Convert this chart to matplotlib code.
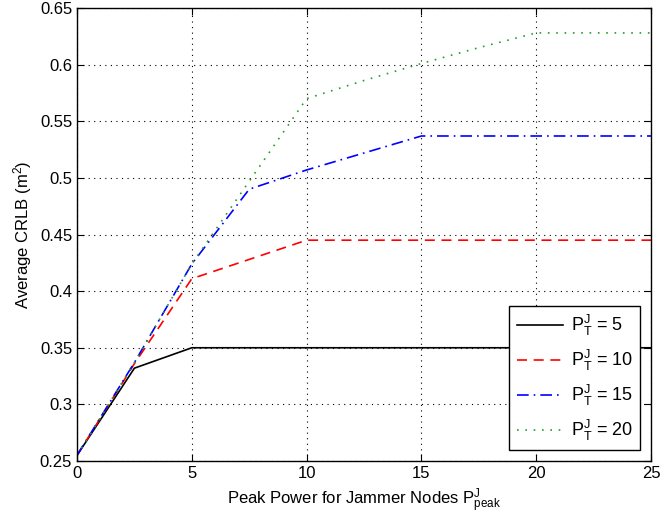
import matplotlib
matplotlib.use("Agg")
import matplotlib.pyplot as plt
from matplotlib.ticker import FuncFormatter

plt.rcParams['font.family'] = ['Liberation Sans', 'DejaVu Sans']
plt.rcParams['mathtext.default'] = 'regular'

# peak jammer power
x = [0, 2.5, 5, 7.5, 10, 12.5, 15, 17.5, 20, 22.5, 25]

crlb_p5 = [0.255, 0.332, 0.350, 0.350, 0.350, 0.350, 0.350, 0.350, 0.350, 0.350, 0.350]
crlb_p10 = [0.255, 0.336, 0.411, 0.428, 0.445, 0.445, 0.445, 0.445, 0.445, 0.445, 0.445]
crlb_p15 = [0.255, 0.337, 0.424, 0.490, 0.507, 0.522, 0.537, 0.537, 0.537, 0.537, 0.537]
crlb_p20 = [0.255, 0.337, 0.424, 0.497, 0.570, 0.586, 0.601, 0.615, 0.628, 0.628, 0.628]

labels = ["$P^J_T$ = 5", "$P^J_T$ = 10", "$P^J_T$ = 15", "$P^J_T$ = 20"]

fig = plt.figure(figsize=(6.6, 5.24), dpi=100)
ax = fig.add_axes([0.1167, 0.1202, 0.8697, 0.8645])

ax.plot(x, crlb_p5, "-", color="black", lw=1.2, label=labels[0])
ax.plot(x, crlb_p10, "--", color="red", lw=1.2, dashes=(6, 4), label=labels[1])
ax.plot(x, crlb_p15, "-.", color="blue", lw=1.2, dashes=(7, 3, 1, 3), label=labels[2])
ax.plot(x, crlb_p20, ":", color="#2a9a2a", lw=1.2, dashes=(1, 4), label=labels[3])

ax.set_xlim(0, 25)
ax.set_ylim(0.25, 0.65)
ax.set_xticks([0, 5, 10, 15, 20, 25])
ax.set_yticks([0.25, 0.3, 0.35, 0.4, 0.45, 0.5, 0.55, 0.6, 0.65])
ax.yaxis.set_major_formatter(FuncFormatter(lambda v, p: "%g" % round(v, 2)))

ax.grid(True, color="black", linestyle=(0, (1, 4)), lw=0.8)
ax.tick_params(direction="in", top=True, right=True, labelsize=12, length=5)
for s in ax.spines.values():
    s.set_linewidth(1.0)

ax.set_xlabel("Peak Power for Jammer Nodes $P^J_{peak}$", fontsize=12)
ax.set_ylabel("Average CRLB (m$^2$)", fontsize=12)

leg = ax.legend(loc="lower right", fontsize=13, fancybox=False, framealpha=1,
                edgecolor="black", borderaxespad=0.6, labelspacing=0.55,
                handlelength=2.6, handletextpad=0.4)
leg.get_frame().set_linewidth(1.0)

fig.savefig("out.png", dpi=100)
